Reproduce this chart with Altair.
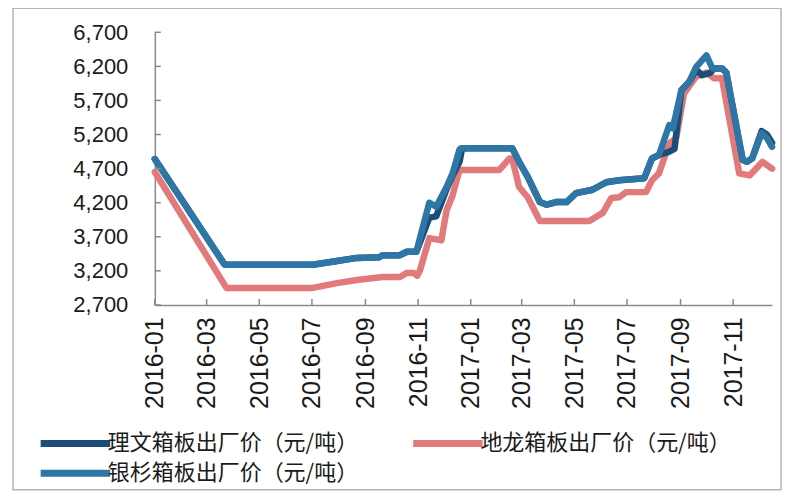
import altair as alt
import pandas as pd

# ---- data ----
S_LW = "理文箱板出厂价（元/吨）"
S_DL = "地龙箱板出厂价（元/吨）"
S_YS = "银杉箱板出厂价（元/吨）"

ys_dates = ["2016-01-01", "2016-03-22", "2016-07-02", "2016-07-30", "2016-08-22", "2016-09-17",
            "2016-09-21", "2016-10-11", "2016-10-19", "2016-10-30", "2016-11-14", "2016-11-22",
            "2016-12-04", "2016-12-11", "2016-12-19", "2016-12-21", "2017-02-18", "2017-02-26",
            "2017-03-08", "2017-03-22", "2017-03-30", "2017-04-10", "2017-04-22", "2017-05-03",
            "2017-05-22", "2017-06-07", "2017-06-22", "2017-07-21", "2017-07-30", "2017-08-07",
            "2017-08-19", "2017-08-23", "2017-09-02", "2017-09-11", "2017-09-19", "2017-10-01",
            "2017-10-08", "2017-10-19", "2017-10-24", "2017-11-12", "2017-11-17", "2017-11-23",
            "2017-12-04", "2017-12-10", "2017-12-16"]
ys_values = [4840, 3290, 3290, 3345, 3390, 3400,
             3430, 3430, 3480, 3480, 4200, 4140,
             4430, 4630, 4980, 5000, 5000, 4800,
             4580, 4210, 4170, 4210, 4210, 4340,
             4390, 4500, 4530, 4560, 4850, 4900,
             5340, 5290, 5850, 5970, 6190, 6360,
             6170, 6170, 6110, 4830, 4800, 4850,
             5220, 5150, 5020]

lw_dates = ["2016-01-01", "2016-03-22", "2016-07-02", "2016-07-30", "2016-08-22", "2016-09-17",
            "2016-09-21", "2016-10-11", "2016-10-19", "2016-10-30", "2016-11-14", "2016-11-22",
            "2016-12-04", "2016-12-11", "2016-12-19", "2016-12-22", "2017-02-18", "2017-02-26",
            "2017-03-08", "2017-03-22", "2017-03-30", "2017-04-10", "2017-04-22", "2017-05-03",
            "2017-05-22", "2017-06-07", "2017-06-22", "2017-07-21", "2017-07-30", "2017-08-07",
            "2017-08-19", "2017-08-25", "2017-09-02", "2017-09-11", "2017-09-19", "2017-09-26",
            "2017-10-05", "2017-10-10", "2017-10-19", "2017-10-24", "2017-11-12", "2017-11-17",
            "2017-11-23", "2017-12-04", "2017-12-10", "2017-12-16"]
lw_values = [4840, 3290, 3290, 3345, 3390, 3400,
             3430, 3430, 3480, 3480, 3980, 4000,
             4400, 4600, 4800, 5000, 5000, 4800,
             4580, 4210, 4170, 4210, 4210, 4340,
             4390, 4500, 4530, 4560, 4850, 4900,
             4950, 4990, 5850, 5970, 6150, 6070,
             6100, 6170, 6170, 6110, 4830, 4800,
             4850, 5250, 5200, 5080]

dl_dates = ["2016-01-01", "2016-03-24", "2016-07-02", "2016-07-30", "2016-08-22", "2016-09-21",
            "2016-10-11", "2016-10-19", "2016-10-27", "2016-10-31", "2016-11-03", "2016-11-14",
            "2016-11-28", "2016-12-04", "2016-12-11", "2016-12-19", "2017-02-03", "2017-02-15",
            "2017-02-18", "2017-02-26", "2017-03-08", "2017-03-22", "2017-05-18", "2017-06-03",
            "2017-06-13", "2017-06-22", "2017-06-30", "2017-07-23", "2017-07-30", "2017-08-07",
            "2017-08-19", "2017-08-27", "2017-09-05", "2017-09-19", "2017-10-01", "2017-10-10",
            "2017-10-19", "2017-11-08", "2017-11-20", "2017-12-05", "2017-12-16"]
dl_values = [4650, 2950, 2950, 3020, 3065, 3110,
             3110, 3170, 3170, 3130, 3200, 3680,
             3650, 4090, 4310, 4680, 4680, 4850,
             4850, 4430, 4280, 3930, 3930, 4050,
             4270, 4280, 4355, 4355, 4530, 4630,
             5070, 5150, 5800, 6050, 6110, 6025,
             6025, 4630, 4600, 4800, 4700]

x_tick_dates = ["2016-01-01", "2016-03-01", "2016-05-01", "2016-07-01", "2016-09-01", "2016-11-01",
                "2017-01-01", "2017-03-01", "2017-05-01", "2017-07-01", "2017-09-01", "2017-11-01"]
y_ticks = [2700, 3200, 3700, 4200, 4700, 5200, 5700, 6200, 6700]

# legend is filled column by column: column 1 = 理文, 银杉; column 2 = 地龙
series_order = [S_LW, S_YS, S_DL]
series_colors = ["#1c4d78", "#2e76a6", "#e27a7c"]

# ---- tables ----
rows = []
for d, v in zip(dl_dates, dl_values):
    rows.append({"date": d, "value": v, "series": S_DL, "ord": 0})
for d, v in zip(lw_dates, lw_values):
    rows.append({"date": d, "value": v, "series": S_LW, "ord": 1})
for d, v in zip(ys_dates, ys_values):
    rows.append({"date": d, "value": v, "series": S_YS, "ord": 2})
df = pd.DataFrame(rows)

W, H = 618, 273

x_scale = alt.Scale(type="utc", domain=[alt.DateTime(year=2016, month=1, date=1, utc=True),
                                         alt.DateTime(year=2017, month=12, date=16, utc=True)])
y_scale = alt.Scale(domain=[2700, 6700], nice=False, zero=False)

x_vals = [alt.DateTime(year=int(s[:4]), month=int(s[5:7]), date=1, utc=True) for s in x_tick_dates]

x_axis = alt.Axis(values=x_vals, labelExpr="utcFormat(datum.value, '%Y-%m')", labelAngle=-90,
                  labelFontSize=25, labelFont="Liberation Sans", labelColor="#1a1a1a",
                  labelPadding=12, ticks=False, grid=False, domainColor="#8a8a8a",
                  domainWidth=1.5, labelOverlap=False, title=None)
y_axis = alt.Axis(values=y_ticks, labelExpr="format(datum.value, ',d')", labelFontSize=22,
                  labelFont="Liberation Sans", labelOverlap=False,
                  labelColor="#1a1a1a", labelPadding=27, ticks=False, grid=False,
                  domainColor="#8a8a8a", domainWidth=1.5, title=None)

lines = alt.Chart(df).mark_line(strokeWidth=6.5, strokeCap="round", strokeJoin="round").encode(
    x=alt.X("date:T", scale=x_scale, title=None, axis=x_axis),
    y=alt.Y("value:Q", scale=y_scale, title=None, axis=y_axis),
    color=alt.Color("series:N", scale=alt.Scale(domain=series_order, range=series_colors),
                    sort=series_order,
                    legend=alt.Legend(title=None, orient="none", legendX=-95, legendY=396,
                                      columns=2, columnPadding=40, rowPadding=-4,
                                      symbolType="M-2.9,0H2.9", symbolSize=576, symbolStrokeWidth=7,
                                      labelOffset=17, labelFontSize=22, labelFont="Noto Sans CJK SC",
                                      labelColor="#1a1a1a", labelLimit=400)),
    order=alt.Order("ord:Q"),
    detail="series:N",
)

xt = alt.Chart(pd.DataFrame({"date": x_tick_dates})).mark_rule(color="#8a8a8a", strokeWidth=1.5).encode(
    x=alt.X("date:T", scale=x_scale, title=None, axis=x_axis),
    y=alt.value(H),
    y2=alt.value(H - 6),
)
yt = alt.Chart(pd.DataFrame({"value": y_ticks})).mark_rule(color="#8a8a8a", strokeWidth=1.5).encode(
    y=alt.Y("value:Q", scale=y_scale, title=None, axis=y_axis),
    x=alt.value(0),
    x2=alt.value(6),
)
frame = alt.Chart(pd.DataFrame({"a": [0]})).mark_rect(fill=None, stroke="#b5b5b5", strokeWidth=1.5).encode(
    x=alt.value(-142), x2=alt.value(627), y=alt.value(-24), y2=alt.value(458),
)

chart = alt.layer(frame, lines, xt, yt).properties(
    width=W, height=H,
    autosize=alt.AutoSizeParams(type="none"),
    padding={"left": 147, "top": 24, "right": 20, "bottom": 190},
    background="white",
).configure_view(stroke=None)

chart.save("out.html", embed_options={"renderer": "svg", "actions": False})
